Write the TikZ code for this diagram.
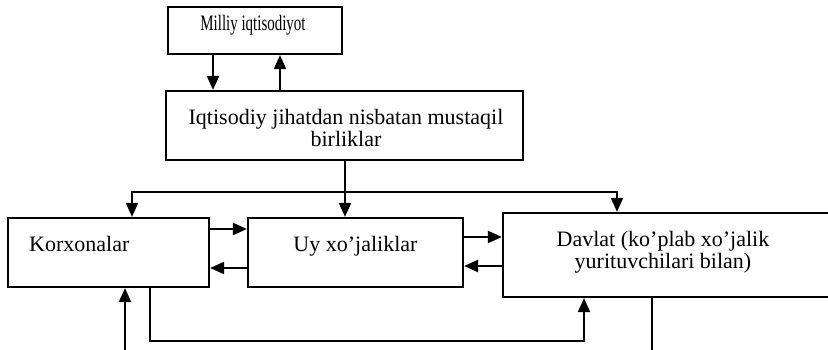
\documentclass[tikz,border=0pt]{standalone}
\usepackage{fontspec}
\setmainfont{Liberation Serif}
\usetikzlibrary{arrows.meta}
\begin{document}
\begin{tikzpicture}[x=1pt,y=-1pt,
  box/.style={draw,line width=2.2pt,inner sep=0pt,minimum width=#1},
  txt/.style={inner sep=0pt,font=\fontsize{22}{22}\selectfont,align=center},
  arr/.style={line width=2.2pt,-{Triangle[length=14pt,width=12pt]}},
  bus/.style={line width=1.8pt}]
\useasboundingbox (0,0) rectangle (828,350);
\fill[white] (0,0) rectangle (828,350);
% boxes
\node[box=174pt,minimum height=47pt] (mi) at (255,30.5) {};
\node[box=357pt,minimum height=69pt] (iq) at (344.5,125.5) {};
\node[box=201pt,minimum height=69pt] (ko) at (108.5,252.5) {};
\node[box=215pt,minimum height=69pt] (uy) at (355.5,252.5) {};
\node[box=330pt,minimum height=84pt] (dv) at (668,255) {};
% texts
\node[txt] (tmi) at (253,25) {\scalebox{0.68}[1]{Milliy iqtisodiyot}};
\node[txt] (tiq) at (346,128) {Iqtisodiy jihatdan nisbatan mustaqil\\birliklar};
\node[txt,anchor=west] (tko) at (29,243.5) {Korxonalar};
\node[txt] (tuy) at (355.5,246) {Uy xo'jaliklar};
\node[txt] (tdv) at (663,252.5) {Davlat (ko'plab xo'jalik\\yurituvchilari bilan)};
% helper coordinates
\coordinate (x1) at (213,0);
\coordinate (x2) at (280,0);
\coordinate (x3) at (345,0);
\coordinate (xk) at (132,0);
\coordinate (xd) at (617,0);
\coordinate (yb) at (0,192);
\coordinate (y1) at (0,229);
\coordinate (y2) at (0,268);
\coordinate (y3) at (0,237);
\coordinate (y4) at (0,266);
\coordinate (xl) at (150,0);
\coordinate (xr) at (584,0);
\coordinate (yl) at (0,341);
\coordinate (xu) at (125,0);
\coordinate (xv) at (652,0);
\coordinate (bot) at (0,352);
% connectors
\draw[arr] (x1 |- mi.south) -- (x1 |- iq.north);
\draw[arr] (x2 |- iq.north) -- (x2 |- mi.south);
\draw[arr] (x3 |- iq.south) -- (x3 |- uy.north);
\draw[bus,{Triangle[length=14pt,width=12pt]}-{Triangle[length=14pt,width=12pt]}]
  (xk |- ko.north) -- (xk |- yb) -- (xd |- yb) -- (xd |- dv.north);
\draw[arr] (ko.east |- y1) -- (uy.west |- y1);
\draw[arr] (uy.west |- y2) -- (ko.east |- y2);
\draw[arr] (uy.east |- y3) -- (dv.west |- y3);
\draw[arr] (dv.west |- y4) -- (uy.east |- y4);
\draw[bus,-{Triangle[length=14pt,width=12pt]}]
  (xl |- ko.south) -- (xl |- yl) -- (xr |- yl) -- (xr |- dv.south);
\draw[arr] (xu |- bot) -- (xu |- ko.south);
\draw[line width=2.2pt] (xv |- dv.south) -- (xv |- bot);
\end{tikzpicture}
\end{document}
